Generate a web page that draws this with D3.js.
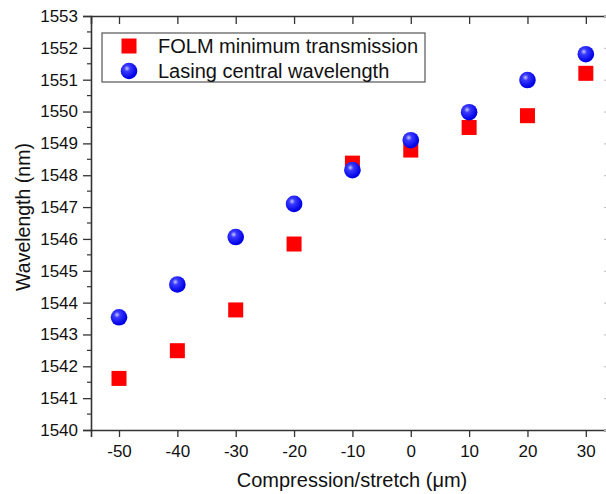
<!DOCTYPE html>
<html>
<head>
<meta charset="utf-8">
<script src="https://cdn.jsdelivr.net/npm/d3@7"></script>
<style>
  body { margin: 0; background: #fff; }
  svg { font-family: "Liberation Sans", Arial, sans-serif; }
</style>
</head>
<body>
<svg id="chart" width="606" height="494"></svg>
<script>
// values
const displacement = [-50, -40, -30, -20, -10, 0, 10, 20, 30];
const folmMinimum = [1541.62, 1542.49, 1543.77, 1545.84, 1548.38, 1548.79, 1549.5, 1549.87, 1551.2];
const lasingCentral = [1543.54, 1544.57, 1546.06, 1547.1, 1548.16, 1549.1, 1549.98, 1550.99, 1551.8];
const xTicks = [-50, -40, -30, -20, -10, 0, 10, 20, 30];
const yTicks = [1540, 1541, 1542, 1543, 1544, 1545, 1546, 1547, 1548, 1549, 1550, 1551, 1552, 1553];
const seriesNames = ["FOLM minimum transmission", "Lasing central wavelength"];

const svg = d3.select("#chart");
const plotLeft = 91, plotTop = 16, plotBottom = 430, plotRight = 615;

const x = d3.scaleLinear().domain([-54.8, 35]).range([plotLeft, plotRight]);
const y = d3.scaleLinear().domain([1540, 1553]).range([plotBottom, plotTop]);

// sphere look for the circles
const defs = svg.append("defs");
const grad = defs.append("radialGradient")
    .attr("id", "ball").attr("cx", "38%").attr("cy", "35%").attr("r", "60%");
grad.append("stop").attr("offset", "0%").attr("stop-color", "#c8c8ff");
grad.append("stop").attr("offset", "30%").attr("stop-color", "#3a3aff");
grad.append("stop").attr("offset", "100%").attr("stop-color", "#0000e6");

const axisColor = "#333";
const plainNum = d => String(d);   // hyphen minus like the original

// left axis
const yAxis = svg.append("g")
    .attr("transform", `translate(${plotLeft},0)`)
    .call(d3.axisLeft(y).tickValues(yTicks).tickSize(8).tickPadding(5).tickFormat(plainNum));
yAxis.select(".domain").attr("stroke", axisColor).attr("stroke-width", 1.6);
yAxis.selectAll(".tick line").attr("stroke", axisColor).attr("stroke-width", 1.3);
yAxis.selectAll("text").attr("font-size", 17).attr("fill", "#111");
yAxis.append("g").selectAll("line")
    .data(yTicks.slice(0, -1).map(d => d + 0.5))
    .join("line")
    .attr("x1", -4).attr("x2", 0)
    .attr("y1", d => y(d)).attr("y2", d => y(d))
    .attr("stroke", axisColor).attr("stroke-width", 1.2);

// bottom axis
const xAxis = svg.append("g")
    .attr("transform", `translate(0,${plotBottom})`)
    .call(d3.axisBottom(x).tickValues(xTicks).tickSize(7).tickPadding(8).tickFormat(plainNum));
xAxis.select(".domain").attr("stroke", axisColor).attr("stroke-width", 1.6);
xAxis.selectAll(".tick line").attr("stroke", axisColor).attr("stroke-width", 1.3);
xAxis.selectAll("text").attr("font-size", 17).attr("fill", "#111");

// top axis, ticks inward
const topAxis = svg.append("g")
    .attr("transform", `translate(0,${plotTop})`)
    .call(d3.axisBottom(x).tickValues(xTicks).tickSize(8).tickFormat(""));
topAxis.select(".domain").attr("stroke", axisColor).attr("stroke-width", 1.6);
topAxis.selectAll(".tick line").attr("stroke", axisColor).attr("stroke-width", 1.3);

// right axis (cut off by the frame, only tick tips show)
const rightAxis = svg.append("g")
    .attr("transform", `translate(${plotRight},0)`)
    .call(d3.axisLeft(y).tickValues(yTicks).tickSize(11).tickFormat(""));
rightAxis.select(".domain").attr("stroke", axisColor).attr("stroke-width", 1.6);
rightAxis.selectAll(".tick line").attr("stroke", "#bbb").attr("stroke-width", 1);

// axis titles
svg.append("text")
    .attr("x", 352).attr("y", 487)
    .attr("text-anchor", "middle").attr("font-size", 20).attr("fill", "#111")
    .text("Compression/stretch (\u03bcm)");
svg.append("text")
    .attr("transform", "translate(30,217) rotate(-90)")
    .attr("text-anchor", "middle").attr("font-size", 19.5).attr("fill", "#111")
    .text("Wavelength (nm)");

// series
const sq = 15;
svg.append("g").selectAll("rect")
    .data(displacement.map((d, i) => [d, folmMinimum[i]]))
    .join("rect")
    .attr("x", d => x(d[0]) - sq / 2)
    .attr("y", d => y(d[1]) - sq / 2)
    .attr("width", sq).attr("height", sq)
    .attr("fill", "#ff0000");

svg.append("g").selectAll("circle")
    .data(displacement.map((d, i) => [d, lasingCentral[i]]))
    .join("circle")
    .attr("cx", d => x(d[0]))
    .attr("cy", d => y(d[1]))
    .attr("r", 8.3)
    .attr("fill", "url(#ball)");

// legend
const legend = svg.append("g");
legend.append("rect")
    .attr("x", 102).attr("y", 33).attr("width", 323).attr("height", 49)
    .attr("fill", "#fff").attr("stroke", "#555").attr("stroke-width", 1.2);
legend.append("rect")
    .attr("x", 129 - sq / 2).attr("y", 46 - sq / 2).attr("width", sq).attr("height", sq)
    .attr("fill", "#ff0000");
legend.append("circle")
    .attr("cx", 129).attr("cy", 71).attr("r", 8.3).attr("fill", "url(#ball)");
legend.selectAll("text")
    .data(seriesNames)
    .join("text")
    .attr("x", 158).attr("y", (d, i) => 53 + i * 25)
    .attr("font-size", 20).attr("fill", "#111")
    .text(d => d);
</script>
</body>
</html>
